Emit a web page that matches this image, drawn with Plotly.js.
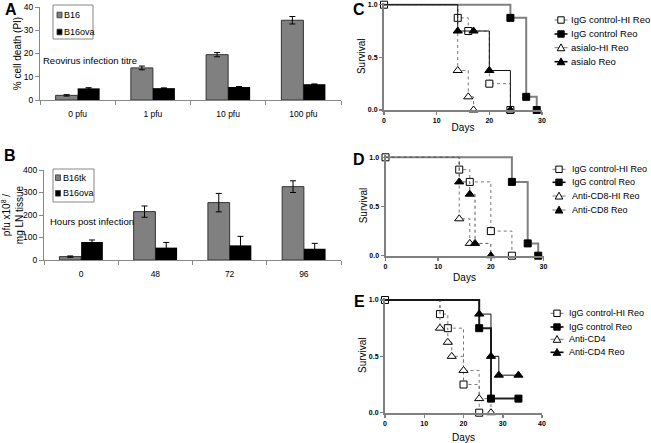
<!DOCTYPE html>
<html><head><meta charset="utf-8">
<script src="https://cdn.plot.ly/plotly-3.0.1.min.js"></script>
<style>html,body{margin:0;padding:0;background:#fff}#chart{width:651px;height:443px}</style>
</head><body><div id="chart"></div>
<script>
// ---------- Panel A: % cell death ----------
const titreLabels = ["0 pfu", "1 pfu", "10 pfu", "100 pfu"];
const b16Death = [2.0, 13.8, 19.5, 34.3];
const b16DeathErr = [0.3, 0.8, 0.9, 1.6];
const b16ovaDeath = [5.0, 5.1, 5.6, 6.8];
const b16ovaDeathErr = [0.3, 0.1, 0.2, 0.1];
// ---------- Panel B: virus titre ----------
const hoursLabels = ["0", "48", "72", "96"];
const b16tkPfu = [15, 215, 255, 326];
const b16tkPfuErr = [3, 25, 41, 26];
const b16ovaPfu = [80, 55, 65, 50];
const b16ovaPfuErr = [9, 23, 40, 24];
// ---------- Panel C ----------
const cNames = ["IgG control-HI Reo", "IgG control Reo", "asialo-HI Reo", "asialo Reo"];
const cIgHIDays = [0, 14, 16, 20, 24],     cIgHISurv = [1, 0.875, 0.75, 0.25, 0];
const cIgReoDays = [0, 24, 27, 29],        cIgReoSurv = [1, 0.875, 0.125, 0];
const cAsHIDays = [0, 14, 16, 17],         cAsHISurv = [1, 0.375, 0.125, 0];
const cAsReoDays = [0, 14, 17, 20, 24],    cAsReoSurv = [1, 0.75, 0.75, 0.375, 0];
// ---------- Panel D ----------
const dNames = ["IgG control-HI Reo", "IgG control Reo", "Anti-CD8-HI Reo", "Anti-CD8 Reo"];
const dIgHIDays = [0, 14, 16, 20, 24],     dIgHISurv = [1, 0.875, 0.75, 0.25, 0];
const dIgReoDays = [0, 24, 27, 29],        dIgReoSurv = [1, 0.75, 0.125, 0];
const dCd8HIDays = [0, 14, 16],            dCd8HISurv = [1, 0.375, 0.125];
const dCd8ReoDays = [0, 14, 16, 17, 20],   dCd8ReoSurv = [1, 0.75, 0.625, 0.125, 0];
// ---------- Panel E ----------
const eNames = ["IgG control-HI Reo", "IgG control Reo", "Anti-CD4", "Anti-CD4 Reo"];
const eIgHIDays = [0, 14, 16, 20, 24],     eIgHISurv = [1, 0.875, 0.75, 0.25, 0];
const eIgReoDays = [0, 24, 27, 34],        eIgReoSurv = [1, 0.75, 0.125, 0.125];
const eCd4Days = [0, 14, 16, 17, 20, 24, 27], eCd4Surv = [1, 0.75, 0.625, 0.5, 0.375, 0.125, 0];
const eCd4ReoDays = [0, 24, 27, 29, 34],   eCd4ReoSurv = [1, 0.875, 0.5, 0.333, 0.333];

const W = 651, H = 443;
const fx = p => p / W, fy = p => 1 - p / H;
const FONT = '"Liberation Sans", Arial, sans-serif';
const GRAY = '#808080';

// styles
const S_HI_SQ  = {symbol: 'square', size: 7, fill: '#fff', color: '#777', dash: 'dot', width: 1};
const S_REO_SQ = {symbol: 'square', size: 7, fill: '#000', color: GRAY, dash: 'solid', width: 2};
const S_HI_TRI = {symbol: 'triangle-up', size: 8, fill: '#fff', color: '#777', dash: 'dot', width: 1};
const S_REO_TRI = {symbol: 'triangle-up', size: 8, fill: '#000', color: '#111', dash: 'solid', width: 1};

const traces = [];
function barPair(cats, v1, e1, v2, e2, xa, ya) {
  traces.push({type: 'bar', x: cats, y: v1, xaxis: xa, yaxis: ya,
    marker: {color: GRAY, line: {color: '#333', width: 1}},
    error_y: {type: 'data', array: e1, visible: true, color: '#000', thickness: 1, width: 3}});
  traces.push({type: 'bar', x: cats, y: v2, xaxis: xa, yaxis: ya,
    marker: {color: '#000', line: {color: '#000', width: 0}},
    error_y: {type: 'data', array: e2, visible: true, color: '#000', thickness: 1, width: 3}});
}
barPair(titreLabels, b16Death, b16DeathErr, b16ovaDeath, b16ovaDeathErr, 'x', 'y');
barPair(hoursLabels, b16tkPfu, b16tkPfuErr, b16ovaPfu, b16ovaPfuErr, 'x2', 'y2');

function surv(days, s, st, xa, ya, name, markFirst) {
  traces.push({type: 'scatter', mode: 'lines+markers', x: days, y: s, xaxis: xa, yaxis: ya, name: name,
    cliponaxis: false,
    line: {shape: 'hv', color: st.color, dash: st.dash, width: st.width},
    marker: {symbol: st.symbol, size: st.size, color: st.fill, line: {color: '#000', width: 1},
      opacity: days.map((d, i) => (i === 0 && !markFirst) ? 0 : 1)}});
}
const dStyleCd8Reo = Object.assign({}, S_REO_TRI, {color: '#555', dash: 'dot'});
const eStyleIgReo = Object.assign({}, S_REO_SQ, {color: '#222'});

const cStyles = [S_HI_SQ, S_REO_SQ, S_HI_TRI, S_REO_TRI];
const dStyles = [S_HI_SQ, S_REO_SQ, S_HI_TRI, dStyleCd8Reo];
const eStyles = [S_HI_SQ, eStyleIgReo, S_HI_TRI, S_REO_TRI];

surv(cIgHIDays, cIgHISurv, cStyles[0], 'x3', 'y3', cNames[0], true);
surv(cAsHIDays, cAsHISurv, cStyles[2], 'x3', 'y3', cNames[2], false);
surv(cIgReoDays, cIgReoSurv, cStyles[1], 'x3', 'y3', cNames[1], false);
surv(cAsReoDays, cAsReoSurv, cStyles[3], 'x3', 'y3', cNames[3], false);

surv(dIgHIDays, dIgHISurv, dStyles[0], 'x4', 'y4', dNames[0], true);
surv(dCd8HIDays, dCd8HISurv, dStyles[2], 'x4', 'y4', dNames[2], false);
surv(dIgReoDays, dIgReoSurv, dStyles[1], 'x4', 'y4', dNames[1], false);
surv(dCd8ReoDays, dCd8ReoSurv, dStyles[3], 'x4', 'y4', dNames[3], false);

surv(eIgHIDays, eIgHISurv, eStyles[0], 'x5', 'y5', eNames[0], true);
surv(eCd4Days, eCd4Surv, eStyles[2], 'x5', 'y5', eNames[2], false);
surv(eIgReoDays, eIgReoSurv, eStyles[1], 'x5', 'y5', eNames[1], false);
surv(eCd4ReoDays, eCd4ReoSurv, eStyles[3], 'x5', 'y5', eNames[3], false);

// ---------- layout helpers ----------
const shapes = [], annotations = [];
function label(text, x, y, size, opts) {
  annotations.push(Object.assign({text: text, xref: 'paper', yref: 'paper', x: fx(x), y: fy(y),
    showarrow: false, xanchor: 'left', yanchor: 'middle', borderpad: 0,
    font: {size: size, family: FONT, color: '#000'}}, opts || {}));
}
function markerShape(st, cx, cy) {
  const h = st.symbol === 'square' ? 3.2 : 3.8;
  if (st.symbol === 'square') {
    shapes.push({type: 'rect', xref: 'paper', yref: 'paper', x0: fx(cx - h), x1: fx(cx + h), y0: fy(cy + h), y1: fy(cy - h),
      fillcolor: st.fill, line: {color: '#000', width: 1}});
  } else {
    const p = `M${fx(cx - h)},${fy(cy + h * 0.8)} L${fx(cx + h)},${fy(cy + h * 0.8)} L${fx(cx)},${fy(cy - h)} Z`;
    shapes.push({type: 'path', xref: 'paper', yref: 'paper', path: p, fillcolor: st.fill, line: {color: '#000', width: 1}});
  }
}
function survLegend(names, styles, xMark, xText, ys, fs) {
  names.forEach((n, i) => {
    const st = styles[i], y = ys[i];
    shapes.push({type: 'line', xref: 'paper', yref: 'paper', x0: fx(xMark - 6.5), x1: fx(xMark + 6.5), y0: fy(y), y1: fy(y),
      line: {color: st.dash === 'dot' ? '#777' : '#000', width: st.dash === 'dot' ? 1 : 1.6}});
    markerShape(st, xMark, y);
    label(n, xText, y, fs);
  });
}
function barLegend(names, colors, box, xSq, xText, ys) {
  shapes.push({type: 'rect', xref: 'paper', yref: 'paper', x0: fx(box[0]), x1: fx(box[2]), y0: fy(box[3]), y1: fy(box[1]),
    fillcolor: '#fff', line: {color: '#888', width: 1}});
  names.forEach((n, i) => {
    shapes.push({type: 'rect', xref: 'paper', yref: 'paper', x0: fx(xSq), x1: fx(xSq + 5), y0: fy(ys[i] + 2.8), y1: fy(ys[i] - 2.8),
      fillcolor: colors[i], line: {color: '#333', width: 0.8}});
    label(n, xText, ys[i], 9);
  });
}
barLegend(["B16", "B16ova"], [GRAY, '#000'], [53, 5, 93, 39], 57, 63, [15, 32]);
barLegend(["B16tk", "B16ova"], [GRAY, '#000'], [53, 169, 94, 202], 55.5, 61.5, [177.7, 193.3]);
survLegend(cNames, cStyles, 561, 569.5, [20, 34, 47.7, 61.7], 9.5);
survLegend(dNames, dStyles, 559, 571, [169.3, 182.3, 196, 210], 9);
survLegend(eNames, eStyles, 557, 568, [313.3, 327, 339.3, 352.3], 9);

label("Reovirus infection titre", 41.5, 61, 9.5);
label("Hours post infection", 48.5, 221.7, 9.5);
const letterFont = 16;
[["A", 11, 10], ["B", 10, 155], ["C", 359, 10], ["D", 359, 159], ["E", 359, 301]].forEach(l =>
  label('<b>' + l[0] + '</b>', l[1], l[2], letterFont, {xanchor: 'center'}));

function barX(dom, anchor) {
  return {domain: [fx(dom[0]), fx(dom[1])], anchor: anchor, type: 'category', tickson: 'boundaries',
    ticks: 'outside', ticklen: 4, tickcolor: '#888', showline: true, linecolor: '#888', linewidth: 1,
    showgrid: false, zeroline: false, tickfont: {size: 8.5}, ticklabelstandoff: 6, fixedrange: true};
}
function barY(dom, anchor, range, dtick, title, standoff) {
  return {domain: [fy(dom[1]), fy(dom[0])], anchor: anchor, range: range, dtick: dtick,
    ticks: 'outside', ticklen: 4, tickcolor: '#888', showline: true, linecolor: '#888', linewidth: 1,
    showgrid: false, zeroline: false, tickfont: {size: 8.5},
    title: {text: title, font: {size: 10}, standoff: standoff}, fixedrange: true};
}
function survX(x0, x1, anchor, max, standoff) {
  return {domain: [fx(x0), fx(x1)], anchor: anchor, range: [0, max], dtick: 10,
    ticks: 'outside', ticklen: 3, tickwidth: 1.5, tickcolor: GRAY, showline: true, linecolor: GRAY, linewidth: 2,
    showgrid: false, zeroline: false, tickfont: {size: 7, weight: 'bold'},
    title: {text: 'Days', font: {size: 10}, standoff: standoff}, fixedrange: true};
}
function survY(p0, p1, anchor, standoff) {
  const top = p0 - 1.02 * (p0 - p1);
  return {domain: [fy(p0), fy(top)], anchor: anchor, range: [0, 1.02], tickvals: [0, 0.5, 1], tickformat: '.1f',
    ticks: 'outside', ticklen: 3, tickwidth: 1.5, tickcolor: GRAY, showline: true, linecolor: GRAY, linewidth: 2,
    showgrid: false, zeroline: false, tickfont: {size: 7, weight: 'bold'},
    title: {text: 'Survival', font: {size: 10}, standoff: standoff}, fixedrange: true};
}

const layout = {
  width: W, height: H, margin: {l: 0, r: 0, t: 0, b: 0},
  paper_bgcolor: '#fff', plot_bgcolor: 'rgba(0,0,0,0)',
  font: {family: FONT, color: '#000'}, showlegend: false,
  barmode: 'group', bargap: 0.415, bargroupgap: 0,
  xaxis: barX([40, 341], 'y'),
  yaxis: barY([7, 100], 'x', [0, 40], 10, '% cell death (PI)', 0),
  xaxis2: barX([44, 341], 'y2'),
  yaxis2: barY([170, 260], 'x2', [0, 400], 100, 'pfu x10<sup>8</sup> /<br>mg LN tissue', 0),
  xaxis3: survX(384, 542, 'y3', 30, 1),
  yaxis3: survY(110, 4.7, 'x3', 0),
  xaxis4: survX(385.5, 543.5, 'y4', 30, 5),
  yaxis4: survY(255.7, 157.3, 'x4', 0),
  xaxis5: survX(385, 542, 'y5', 40, 9),
  yaxis5: survY(412.7, 300, 'x5', 0),
  shapes: shapes, annotations: annotations
};
Plotly.newPlot('chart', traces, layout, {staticPlot: true, displayModeBar: false});
</script></body></html>
